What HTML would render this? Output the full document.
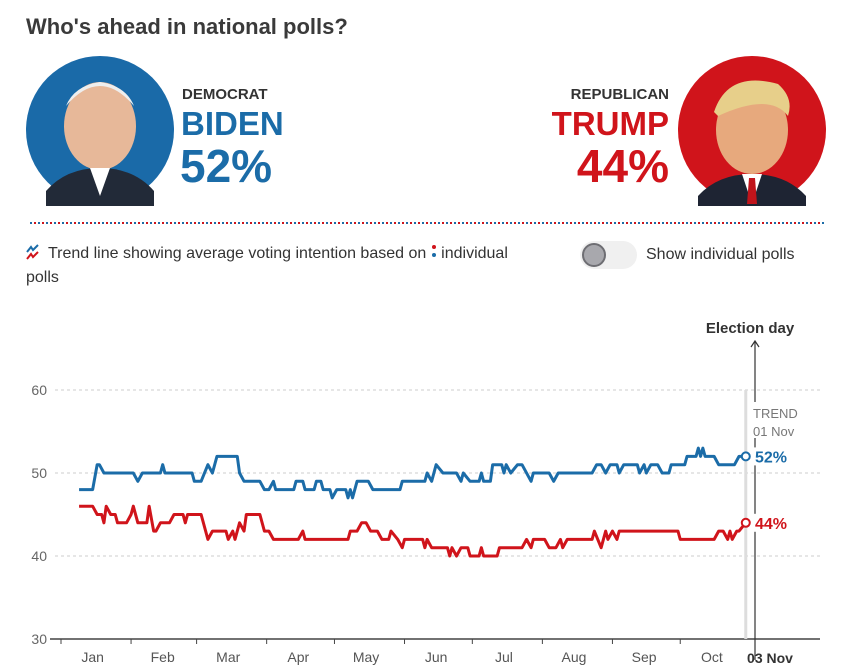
<!DOCTYPE html>
<html><head><meta charset="utf-8">
<style>
body{margin:0;width:843px;height:672px;background:#fff;font-family:"Liberation Sans",sans-serif;color:#202020;overflow:hidden;position:relative}
.a{position:absolute;white-space:nowrap}
</style></head><body>
<div class="a" style="left:26px;top:14px;font-size:22px;font-weight:bold;color:#3a3a3a">Who's ahead in national polls?</div>

<svg class="a" style="left:26px;top:56px" width="150" height="150">
<circle cx="74" cy="74" r="74" fill="#1a6aa8"/>
<ellipse cx="74" cy="70" rx="36" ry="44" fill="#e7b899"/>
<path d="M40 50 Q74 10 108 50 Q100 30 74 26 Q48 30 40 50Z" fill="#eee"/>
<path d="M20 135 Q40 112 74 112 Q108 112 128 135 L128 150 L20 150Z" fill="#222a38"/>
<path d="M64 112 L74 140 L84 112Z" fill="#fff"/>
</svg>
<div class="a" style="left:182px;top:86px;font-size:15px;font-weight:bold;color:#333">DEMOCRAT</div>
<div class="a" style="left:181px;top:105px;font-size:33px;font-weight:bold;color:#1b6ca8">BIDEN</div>
<div class="a" style="left:180px;top:139px;font-size:46px;font-weight:bold;color:#1b6ca8">52%</div>

<svg class="a" style="left:678px;top:56px" width="150" height="150">
<circle cx="74" cy="74" r="74" fill="#d0141b"/>
<ellipse cx="74" cy="74" rx="36" ry="44" fill="#e7a97d"/>
<path d="M36 56 Q50 14 100 28 Q116 42 110 60 Q92 36 40 60Z" fill="#e7cf8a"/>
<path d="M20 140 Q40 118 74 118 Q108 118 128 140 L128 150 L20 150Z" fill="#1e2433"/>
<path d="M64 118 L74 148 L84 118Z" fill="#fff"/>
<path d="M71 122 L77 122 L79 148 L69 148Z" fill="#c0141b"/>
</svg>
<div class="a" style="right:174px;top:86px;font-size:15px;font-weight:bold;color:#333">REPUBLICAN</div>
<div class="a" style="right:174px;top:105px;font-size:33px;font-weight:bold;color:#d0141b">TRUMP</div>
<div class="a" style="right:174px;top:139px;font-size:46px;font-weight:bold;color:#d0141b">44%</div>

<svg class="a" style="left:30px;top:221px" width="795" height="4">
<line x1="0" y1="2" x2="795" y2="2" stroke="#1b6ca8" stroke-width="2" stroke-dasharray="2 6"/>
<line x1="4" y1="2" x2="795" y2="2" stroke="#d0141b" stroke-width="2" stroke-dasharray="2 6"/>
</svg>

<svg class="a" style="left:26px;top:244px" width="14" height="16">
<polyline points="1,8 5,3 7,6 12,1" fill="none" stroke="#1b6ca8" stroke-width="2"/>
<polyline points="1,15 5,10 7,13 12,8" fill="none" stroke="#d0141b" stroke-width="2"/>
</svg>
<div class="a" style="left:26px;top:242px;font-size:16px;line-height:24px;color:#333;white-space:normal;width:520px">&nbsp;&nbsp;&nbsp;&nbsp; Trend line showing average voting intention based on <span style="display:inline-block;width:6px;height:16px;vertical-align:-2px;position:relative"><span style="position:absolute;left:1px;top:1px;width:4px;height:4px;border-radius:2px;background:#d0141b"></span><span style="position:absolute;left:1px;top:9px;width:4px;height:4px;border-radius:2px;background:#1b6ca8"></span></span> individual<br>polls</div>

<div class="a" style="left:580px;top:241px;width:57px;height:28px;border-radius:14px;background:#f0f0f0">
<div style="position:absolute;left:2px;top:2px;width:20px;height:20px;border-radius:50%;background:#a8a8ad;border:2px solid #6e6e73"></div></div>
<div class="a" style="left:646px;top:246px;font-size:16px;color:#333">Show individual polls</div>

<svg class="a" id="chart" style="left:0;top:300px" width="843" height="372"></svg>

<script>
const yTicks=[30,40,50,60];
const monthLabels=["Jan","Feb","Mar","Apr","May","Jun","Jul","Aug","Sep","Oct"];
const monthMid=[14,45,74,105,135,166,196,227,258,288];
const blueDays=[8,14,16,17,19,32,34,36,44,45,46,58,59,62,65,67,69,78,79,81,88,90,92,94,95,103,104,107,108,112,113,115,116,119,120,122,126,127,128,129,131,136,138,150,151,161,162,164,166,169,175,177,178,181,185,186,187,190,191,195,196,197,199,202,204,208,209,216,218,220,235,237,239,241,243,246,247,249,255,256,258,259,261,264,266,269,270,276,277,281,282,283,284,285,289,291,298,300,303];
const blueVals=[48,48,51,51,50,50,49,50,50,51,50,50,49,49,51,50,52,52,50,49,49,48,48,49,48,48,49,49,48,48,49,49,48,48,47,48,48,47,48,47,49,49,48,48,49,49,50,49,51,50,50,49,50,49,49,50,49,49,51,51,50,51,50,51,51,49,50,50,49,50,50,51,51,50,51,51,50,51,51,50,51,50,51,51,50,50,51,51,52,52,53,52,53,52,52,51,51,52,52];
const redDays=[8,14,16,18,19,20,22,24,25,29,31,32,34,38,39,41,42,44,48,50,54,55,56,62,65,67,73,74,76,77,79,81,82,88,90,92,94,105,107,108,127,128,131,133,135,137,140,142,145,146,149,151,152,160,161,162,164,171,172,173,175,177,180,181,185,186,187,193,194,204,206,208,209,214,216,219,221,222,224,235,236,239,241,242,244,246,247,273,274,289,291,293,295,296,297,299,300,303];
const redVals=[46,46,45,45,44,46,45,45,44,44,45,46,44,44,46,43,43,44,44,45,45,44,45,45,42,43,43,42,43,42,44,43,45,45,43,43,42,42,43,42,42,43,43,44,44,43,43,42,42,43,42,41,42,42,41,42,41,41,40,41,40,41,41,40,40,41,40,40,41,41,42,41,42,42,41,41,42,41,42,42,43,41,43,42,43,42,43,43,42,42,43,43,42,43,42,43,43,44];
const NS="http://www.w3.org/2000/svg";
const svg=document.getElementById('chart');
const X=d=>61+d*2.26, Y=v=>339-(v-30)*8.3;
function mk(t,a,p){const e=document.createElementNS(NS,t);for(const k in a)e.setAttribute(k,a[k]);(p||svg).appendChild(e);return e;}
yTicks.forEach(v=>{
 if(v>30){const g=mk('line',{x1:55,x2:820,y1:Y(v),y2:Y(v),stroke:'#ccc','stroke-dasharray':'3 3'});
 
 }
 const t=mk('text',{x:47,y:Y(v)+5,'text-anchor':'end','font-size':14,fill:'#666','font-family':'Liberation Sans'});
 t.textContent=v;
 
 
});
const ax=mk('line',{x1:50,x2:820,y1:Y(30),y2:Y(30),stroke:'#444','stroke-width':1.5});


monthLabels.forEach((m,i)=>{
 const tk=mk('line',{x1:X(monthMid[i]-14),x2:X(monthMid[i]-14),y1:Y(30),y2:Y(30)+5,stroke:'#444'});
 
 
 const t=mk('text',{x:X(monthMid[i]),y:Y(30)+23,'text-anchor':'middle','font-size':14,fill:'#555','font-family':'Liberation Sans'});
 t.textContent=m;
 
 
});
const tl=mk('line',{x1:X(303),x2:X(303),y1:Y(60),y2:Y(30),stroke:'#ddd','stroke-width':3});


const el=mk('line',{x1:755,x2:755,y1:42,y2:360,stroke:'#333','stroke-width':1.2});


const ar=mk('polyline',{points:'751,47 755,41 759,47',fill:'none',stroke:'#333','stroke-width':1.2});


const et=mk('text',{x:750,y:33,'text-anchor':'middle','font-size':15,'font-weight':'bold',fill:'#333','font-family':'Liberation Sans'});
et.textContent='Election day';


const nv=mk('text',{x:770,y:363,'text-anchor':'middle','font-size':14,'font-weight':'bold',fill:'#333','font-family':'Liberation Sans'});
nv.textContent='03 Nov';


const bg=mk('rect',{x:752,y:102,width:46,height:36,fill:'#fff'});


['TREND','01 Nov'].forEach((s,i)=>{const t=mk('text',{x:753,y:118+i*18,'font-size':13,fill:'#777','font-family':'Liberation Sans'});
 t.textContent=s;
 
 });
function series(days,vals,col,name){
 const p=mk('polyline',{points:days.map((d,i)=>X(d)+','+Y(vals[i])).join(' '),fill:'none',stroke:col,'stroke-width':3,'stroke-linejoin':'round'});
 
 
 const n=days.length-1;
 const c=mk('circle',{cx:X(days[n]),cy:Y(vals[n]),r:4,fill:'#fff',stroke:col,'stroke-width':2});
 
 
 const lb=mk('rect',{x:754,y:Y(vals[n])-9,width:36,height:18,fill:'#fff'});
 
 
 const t=mk('text',{x:755,y:Y(vals[n])+6,'font-size':16,'font-weight':'bold',fill:col,'font-family':'Liberation Sans'});
 t.textContent=vals[n]+'%';
 
 
}
series(blueDays,blueVals,'#1b6ca8','biden');
series(redDays,redVals,'#d0141b','trump');
</script>
</body></html>
